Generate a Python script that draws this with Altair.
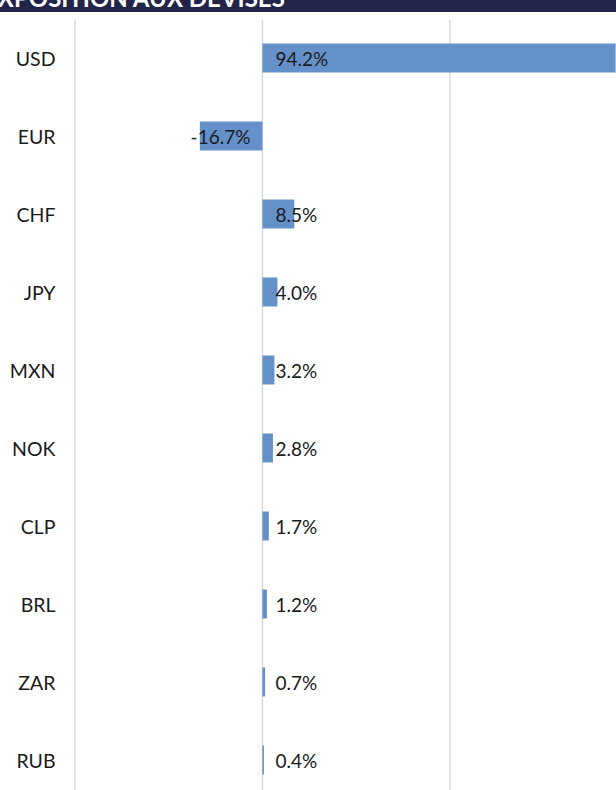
import altair as alt
import pandas as pd

currencies = ["USD", "EUR", "CHF", "JPY", "MXN", "NOK", "CLP", "BRL", "ZAR", "RUB"]
values = [94.2, -16.7, 8.5, 4.0, 3.2, 2.8, 1.7, 1.2, 0.7, 0.4]
grid_values = [-50, 0, 50]
title_text = "EXPOSITION AUX DEVISES"

df = pd.DataFrame({
    "cur": currencies,
    "val": values,
    "label": [f"{v:.1f}%" for v in values],
})
grid_df = pd.DataFrame({"g": grid_values})

xscale = alt.Scale(domain=[-70, 94.3], nice=False, zero=False)
yscale = alt.Scale(paddingInner=0.628, paddingOuter=0.378, align=0.737)
FONT = "Lato"
TXT = "#1a1a1a"

grid = alt.Chart(grid_df).mark_rule(color="#d9d9d9", strokeWidth=1.5).encode(
    x=alt.X("g:Q", scale=xscale, axis=None),
    y=alt.value(20),
    y2=alt.value(790),
)

base = alt.Chart(df)

bars = base.mark_bar(color="#6591cb", clip=True).encode(
    x=alt.X("val:Q", scale=xscale, axis=None),
    x2=alt.datum(0),
    y=alt.Y(
        "cur:N",
        sort=currencies,
        scale=yscale,
        title=None,
        axis=alt.Axis(
            orient="left",
            offset=-55,
            labelPadding=0,
            labelOffset=2,
            ticks=False,
            tickSize=0,
            domain=False,
            grid=False,
            labelFont=FONT,
            labelFontSize=19.5,
            labelColor=TXT,
            labelAlign="right",
        ),
    ),
)

pos_labels = base.transform_filter("datum.val >= 0").mark_text(
    align="left", baseline="middle", dx=13, dy=2, font=FONT, fontSize=19, color=TXT
).encode(
    x=alt.datum(0, scale=xscale),
    y=alt.Y("cur:N", sort=currencies, scale=yscale),
    text="label:N",
)

neg_labels = base.transform_filter("datum.val < 0").mark_text(
    align="right", baseline="middle", dx=-12, dy=2, font=FONT, fontSize=19, color=TXT
).encode(
    x=alt.datum(0, scale=xscale),
    y=alt.Y("cur:N", sort=currencies, scale=yscale),
    text="label:N",
)

header_data = alt.Data(values=[{"t": title_text}])
header_rect = alt.Chart(header_data).mark_rect(color="#22244a").encode(
    x=alt.value(0), x2=alt.value(616), y=alt.value(0), y2=alt.value(12)
)
header_text = alt.Chart(header_data).mark_text(
    align="left", baseline="alphabetic", font=FONT, fontSize=24, fontWeight="bold", color="white"
).encode(
    x=alt.value(-16), y=alt.value(7), text="t:N"
)

chart = alt.layer(grid, bars, pos_labels, neg_labels, header_rect, header_text).properties(
    width=616,
    height=790,
    padding=0,
    autosize=alt.AutoSizeParams(type="none"),
    background="white",
).configure_view(stroke=None)

chart.save("out.html", embed_options={"renderer": "svg", "actions": False})
